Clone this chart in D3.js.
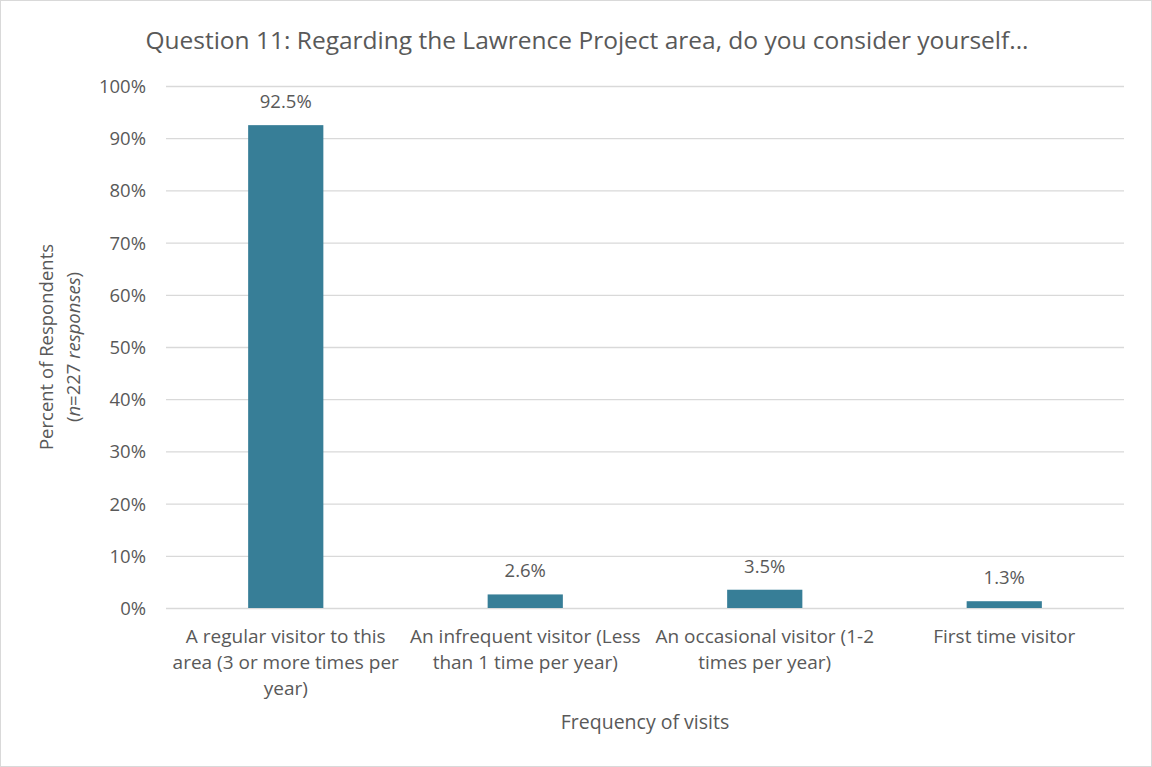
<html>
<meta charset="utf-8" />
<head>
<title>Question 11</title>
<script src="https://cdn.jsdelivr.net/npm/d3@7"></script>
<style>
	body { margin: 0; background: #fff; }
	svg text { font-family: "Open Sans", "Noto Sans", sans-serif; fill: #595959; }
</style>
</head>
<body>
<svg id="chart" width="1152" height="767"></svg>
<script>
// 데이터
const categories = [
	['A regular visitor to this', 'area (3 or more times per', 'year)'],
	['An infrequent visitor (Less', 'than 1 time per year)'],
	['An occasional visitor (1-2', 'times per year)'],
	['First time visitor']
];
const values = [92.5, 2.6, 3.5, 1.3];
const yTicks = [0, 10, 20, 30, 40, 50, 60, 70, 80, 90, 100];

const svg = d3.select('#chart');

// 테두리
svg.append('rect')
	.attr('x', 0.5).attr('y', 0.5)
	.attr('width', 1151).attr('height', 766)
	.style('fill', 'white')
	.style('stroke', '#d9d9d9');

let xScale = d3.scaleBand()
	.domain(d3.range(values.length))
	.range([166, 1124])
	.paddingInner(0.686)
	.paddingOuter(0.343);

let yScale = d3.scaleLinear().domain([0, 100]).range([608, 86]);

// 격자선
let yAxis = d3.axisLeft(yScale).tickValues(yTicks).tickSize(-958).tickFormat((d) => d + '%');
svg.append('g').attr('id', 'yAxis').attr('transform', 'translate(166, 0)').call(yAxis)
	.call((g) => g.select('.domain').remove())
	.call((g) => g.selectAll('line').style('stroke', '#d9d9d9').style('stroke-width', '1.3px'))
	.call((g) => g.selectAll('text').attr('x', -20).attr('dy', '0.35em').style('font-size', '18.5px').style('fill', '#595959'));

// 막대
svg.selectAll('rect.bar')
	.data(values).enter()
	.append('rect')
	.attr('class', 'bar')
	.attr('x', (d, i) => xScale(i))
	.attr('y', (d) => yScale(d))
	.attr('width', xScale.bandwidth())
	.attr('height', (d) => yScale(0) - yScale(d))
	.style('fill', '#377e97');

// 값 라벨
svg.selectAll('text.val')
	.data(values).enter()
	.append('text')
	.attr('class', 'val')
	.attr('x', (d, i) => xScale(i) + xScale.bandwidth() / 2)
	.attr('y', (d) => yScale(d) - 17)
	.attr('text-anchor', 'middle')
	.style('font-size', '18.5px')
	.text((d) => d.toFixed(1) + '%');

// x축 라벨
svg.selectAll('text.cat')
	.data(categories).enter()
	.append('text')
	.attr('class', 'cat')
	.attr('text-anchor', 'middle')
	.style('font-size', '19px')
	.each(function(d, i) {
		let cx = xScale(i) + xScale.bandwidth() / 2;
		d3.select(this).selectAll('tspan')
			.data(d).enter()
			.append('tspan')
			.attr('x', cx)
			.attr('y', (t, j) => 643 + j * 26)
			.text((t) => t);
	});

// 제목
svg.append('text')
	.attr('x', 587).attr('y', 49)
	.attr('text-anchor', 'middle')
	.style('font-size', '24.5px')
	.text('Question 11: Regarding the Lawrence Project area, do you consider yourself...');

svg.append('text')
	.attr('x', 645).attr('y', 729)
	.attr('text-anchor', 'middle')
	.style('font-size', '19.5px')
	.text('Frequency of visits');

// y축 제목
let yt = svg.append('text')
	.attr('transform', 'translate(0, 347) rotate(-90)')
	.attr('text-anchor', 'middle')
	.style('font-size', '18.5px');
yt.append('tspan').attr('x', 0).attr('y', 53).text('Percent of Respondents');
let t2 = yt.append('tspan').attr('x', 0).attr('y', 80);
t2.text('(');
yt.append('tspan').style('font-style', 'italic').text('n');
yt.append('tspan').text('=227 ');
yt.append('tspan').style('font-style', 'italic').text('responses');
yt.append('tspan').text(')');
</script>
</body>
</html>
